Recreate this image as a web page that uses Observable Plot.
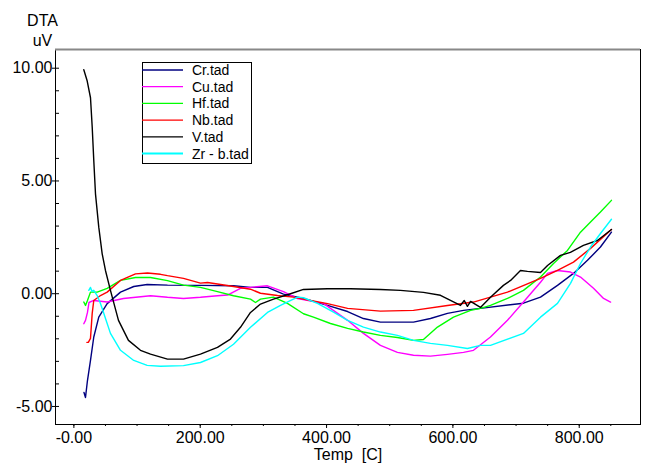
<!DOCTYPE html>
<html>
<head>
<meta charset="utf-8">
<script src="https://cdn.jsdelivr.net/npm/d3@7"></script>
<script src="https://cdn.jsdelivr.net/npm/@observablehq/plot@0.6"></script>
<style>
  body { margin: 0; background: white; }
  #chart { position: relative; width: 646px; height: 463px; }
  #legend { position: absolute; left: 0; top: 0; }
</style>
</head>
<body>
<div id="chart"></div>
<script>
// ---- data (Temp [C], DTA [uV]) ----
const seriesNames = ["Cr.tad", "Cu.tad", "Hf.tad", "Nb.tad", "V.tad", "Zr - b.tad"];
const seriesColors = ["#000080", "#ff00ff", "#00ff00", "#ff0000", "#000000", "#00ffff"];

const cr = [[16.0,-4.38],[18.4,-4.60],[21.5,-3.85],[26.3,-2.96],[31.5,-1.92],[39.4,-1.04],[52.7,-0.44],[73.8,0.07],[94.8,0.32],[116.0,0.41],[148.2,0.38],[200.4,0.37],[252.7,0.35],[279.6,0.28],[306.5,0.28],[331.8,-0.02],[363.5,-0.21],[401.5,-0.52],[433.3,-0.79],[458.4,-1.10],[485.3,-1.26],[537.6,-1.26],[564.5,-1.10],[591.4,-0.87],[616.8,-0.74],[643.6,-0.65],[711.7,-0.42],[738.7,-0.15],[765.6,0.37],[790.9,0.90],[813.1,1.48],[833.6,2.07],[851.0,2.73]];

const cu = [[15.7,-1.33],[18.4,-1.18],[21.5,-0.83],[23.9,-0.39],[31.5,-0.30],[52.7,-0.37],[78.5,-0.21],[121.3,-0.09],[148.2,-0.16],[173.5,-0.21],[200.4,-0.16],[227.3,-0.09],[243.2,-0.06],[263.7,0.24],[279.6,0.28],[306.5,0.35],[331.8,0.09],[354.0,-0.22],[395.0,-0.43],[433.3,-1.18],[458.4,-1.76],[485.3,-2.29],[512.2,-2.60],[537.6,-2.73],[564.5,-2.77],[591.4,-2.69],[616.8,-2.60],[632.6,-2.51],[659.5,-1.92],[686.4,-1.18],[711.7,-0.37],[738.7,0.51],[749.8,0.90],[765.6,1.03],[786.2,0.96],[802.0,0.74],[822.6,0.24],[838.5,-0.21],[849.6,-0.37]];

const hf = [[15.7,-0.37],[18.4,-0.52],[21.5,-0.30],[26.3,0.07],[36.9,0.07],[52.7,0.24],[73.8,0.59],[97.5,0.72],[121.3,0.72],[148.2,0.58],[173.5,0.38],[200.4,0.28],[227.3,0.09],[252.7,-0.09],[279.6,-0.24],[287.5,-0.39],[295.4,-0.24],[316.0,-0.15],[338.1,-0.43],[363.5,-0.89],[379.3,-1.04],[406.2,-1.32],[433.3,-1.54],[458.4,-1.70],[485.3,-1.85],[512.2,-1.94],[537.6,-2.07],[553.4,-2.03],[575.6,-1.48],[601.0,-1.04],[628.0,-0.74],[643.6,-0.65],[659.5,-0.52],[686.4,-0.21],[711.7,0.15],[738.7,0.74],[759.3,1.34],[781.4,1.92],[802.0,2.73],[817.9,3.18],[833.6,3.62],[851.0,4.14]];

const nb = [[20.7,-2.16],[23.1,-2.15],[26.3,-1.98],[29.0,-0.87],[31.5,-0.30],[42.1,-0.08],[52.7,0.07],[73.8,0.59],[97.5,0.88],[116.5,0.92],[137.1,0.86],[148.2,0.80],[173.5,0.68],[200.4,0.47],[211.5,0.50],[227.3,0.43],[252.7,0.32],[279.6,0.20],[295.4,0.02],[322.3,-0.08],[347.6,-0.15],[374.5,-0.30],[401.5,-0.44],[433.3,-0.65],[485.3,-0.77],[537.6,-0.74],[591.4,-0.52],[632.6,-0.37],[686.4,0.07],[738.7,0.68],[765.6,1.03],[790.9,1.40],[817.9,2.01],[851.0,2.85]];

const v = [[15.7,9.93],[21.1,9.43],[26.3,8.69],[29.0,7.39],[31.5,5.91],[34.2,4.43],[39.4,2.95],[44.8,1.77],[50.0,1.03],[57.9,0.15],[70.6,-1.18],[86.4,-2.07],[105.4,-2.51],[121.3,-2.68],[148.2,-2.90],[173.5,-2.90],[200.4,-2.68],[227.3,-2.38],[247.9,-2.01],[263.7,-1.49],[279.6,-0.83],[295.4,-0.46],[316.0,-0.24],[342.9,0.00],[363.5,0.19],[401.5,0.22],[437.8,0.22],[485.3,0.19],[517.0,0.15],[553.4,0.06],[580.3,-0.07],[612.0,-0.52],[618.0,-0.30],[623.0,-0.56],[628.0,-0.34],[643.6,-0.61],[659.5,-0.16],[680.0,0.37],[691.3,0.59],[707.0,1.03],[718.0,0.99],[738.7,0.94],[749.8,1.25],[770.3,1.70],[786.0,1.83],[806.6,2.14],[828.8,2.36],[851.0,2.85]];

const zr = [[23.6,0.15],[26.3,0.28],[28.7,0.10],[31.5,0.15],[36.9,-0.08],[42.1,-0.43],[47.3,-0.87],[57.9,-1.76],[73.8,-2.51],[94.8,-2.96],[116.0,-3.18],[137.1,-3.22],[173.5,-3.19],[200.4,-3.05],[227.3,-2.75],[252.7,-2.24],[279.6,-1.49],[306.5,-0.83],[327.1,-0.52],[354.0,-0.15],[363.5,-0.18],[385.6,-0.43],[411.0,-0.82],[433.3,-1.18],[458.4,-1.48],[485.3,-1.70],[512.2,-1.85],[537.6,-2.07],[564.5,-2.20],[591.4,-2.29],[623.0,-2.43],[643.6,-2.29],[659.5,-2.29],[711.7,-1.76],[738.7,-1.04],[765.6,-0.43],[786.2,0.46],[802.0,1.34],[817.9,2.07],[833.6,2.67],[851.0,3.30]];

const seriesData = [cr, cu, hf, nb, v, zr];

// ---- axes ----
const xDomain = [-29.1, 897];
const yDomain = [-5.80, 10.83];
const xMajorTicks = [0, 200, 400, 600, 800];
const xTickLabels = ["-0.00", "200.00", "400.00", "600.00", "800.00"];
const xMinorTicks = d3.range(0, 851, 50);
const yMajorTicks = [-5, 0, 5, 10];
const yTickLabels = ["-5.00", "0.00", "5.00", "10.00"];
const yMinorTicks = d3.range(-5, 11, 1);
const xLabel = "Temp  [C]";
const yLabel = "DTA\nuV";

const font = "'Liberation Sans', Arial, Helvetica, sans-serif";

const lineMarks = seriesData.map((s, i) =>
  Plot.line(s, {x: d => d[0], y: d => d[1], stroke: seriesColors[i], strokeWidth: 1.4})
);

const plot = Plot.plot({
  width: 646,
  height: 463,
  marginLeft: 55,
  marginRight: 6,
  marginTop: 49,
  marginBottom: 39,
  x: {domain: xDomain},
  y: {domain: yDomain},
  style: {fontFamily: font, fontSize: "16px", background: "white", color: "black"},
  marks: [
    Plot.frame({stroke: "black"}),
    Plot.ruleY([yDomain[1]], {stroke: "#888888", strokeWidth: 2}),
    ...lineMarks,
    Plot.axisX({ticks: xMinorTicks, tickSize: 2, tickFormat: () => "", label: null}),
    Plot.axisX({ticks: xMajorTicks, tickSize: 4, tickPadding: 3,
      tickFormat: d => xTickLabels[xMajorTicks.indexOf(d)], label: null}),
    Plot.axisY({ticks: yMinorTicks, anchor: "right", frameAnchor: "left", tickSize: 3, tickFormat: () => "", label: null}),
    Plot.axisY({ticks: yMajorTicks, tickSize: 3, tickPadding: 0,
      tickFormat: d => yTickLabels[yMajorTicks.indexOf(d)], label: null}),
    Plot.text([xLabel], {text: d => d, frameAnchor: "bottom", dy: 30, lineAnchor: "middle", fontSize: 16}),
    Plot.text([yLabel], {text: d => d, frameAnchor: "top-left", dx: -13, dy: -4, lineAnchor: "bottom", textAnchor: "middle", lineHeight: 1.2, fontSize: 16})
  ]
});

const chart = document.getElementById("chart");
chart.appendChild(plot);

// ---- legend overlay ----
const legend = d3.select(chart).append("svg")
  .attr("id", "legend")
  .attr("width", 646).attr("height", 463)
  .style("font-family", font);
const lx = 142, ly = 62, lw = 109, lh = 101, rowStart = 70, rowStep = 16.7;
legend.append("rect").attr("x", lx + 0.5).attr("y", ly + 0.5).attr("width", lw).attr("height", lh)
  .attr("fill", "white").attr("stroke", "black");
seriesNames.forEach((name, i) => {
  const yy = rowStart + i * rowStep;
  legend.append("line").attr("x1", lx).attr("x2", lx + 41).attr("y1", yy).attr("y2", yy)
    .attr("stroke", seriesColors[i]).attr("stroke-width", i === 5 ? 2.2 : 1.3);
  legend.append("text").attr("x", lx + 50).attr("y", yy + 5).attr("font-size", 14)
    .attr("fill", "black").text(name);
});
</script>
</body>
</html>
